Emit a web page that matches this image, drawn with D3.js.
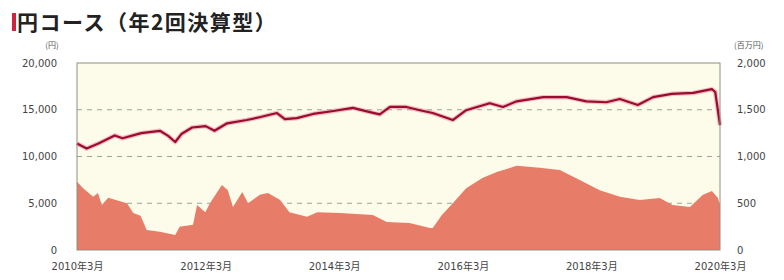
<!DOCTYPE html>
<html><head><meta charset="utf-8">
<script src="https://cdn.jsdelivr.net/npm/d3@7"></script>
<style>
body{margin:0;background:#fff;}
svg{display:block;font-family:"Noto Sans CJK JP","Noto Sans",sans-serif;}
</style></head><body>
<svg id="chart" width="784" height="280"></svg>
<script>
// ---- data ----
const title = "円コース（年2回決算型）";
const leftUnit = "(円)";
const rightUnit = "(百万円)";
const leftTicks = [0, 5000, 10000, 15000, 20000];
const rightTicks = [0, 500, 1000, 1500, 2000];
const xTickDates = ["2010-03-01","2012-03-01","2014-03-01","2016-03-01","2018-03-01","2020-03-01"];
const xTickLabels = ["2010年3月","2012年3月","2014年3月","2016年3月","2018年3月","2020年3月"];

const navDates = ["2010-03-01","2010-04-25","2010-07-01","2010-10-01","2010-11-15","2011-03-01","2011-06-15","2011-08-01","2011-09-10","2011-10-15","2011-12-15","2012-03-01","2012-04-20","2012-07-01","2012-10-20","2013-01-01","2013-04-10","2013-05-25","2013-08-01","2013-11-01","2014-02-25","2014-06-15","2014-09-20","2014-11-15","2015-01-12","2015-04-15","2015-07-01","2015-09-12","2016-01-04","2016-03-20","2016-08-01","2016-10-15","2017-01-01","2017-06-01","2017-10-12","2018-02-01","2018-05-25","2018-08-10","2018-11-20","2019-02-15","2019-06-01","2019-10-01","2020-01-15","2020-02-03","2020-03-01"];
const navValues = [11400,10850,11400,12250,11950,12500,12750,12200,11550,12400,13100,13250,12750,13550,13900,14200,14650,14000,14100,14550,14870,15200,14750,14500,15300,15300,14950,14650,13900,14950,15700,15300,15900,16350,16350,15900,15800,16150,15500,16350,16700,16800,17200,16900,13350];

const aumDates = ["2010-03-01","2010-04-05","2010-06-01","2010-06-28","2010-07-20","2010-08-25","2010-12-10","2011-01-15","2011-02-25","2011-04-01","2011-06-15","2011-07-25","2011-09-10","2011-10-05","2011-12-20","2012-01-12","2012-02-28","2012-03-25","2012-06-01","2012-07-05","2012-08-03","2012-09-25","2012-10-28","2013-01-03","2013-02-18","2013-04-28","2013-06-20","2013-09-28","2013-11-25","2014-04-03","2014-10-06","2014-12-25","2015-05-03","2015-08-28","2015-09-12","2015-11-03","2016-01-04","2016-03-20","2016-06-20","2016-09-10","2017-01-01","2017-05-12","2017-09-03","2017-12-25","2018-04-18","2018-08-10","2018-12-01","2019-03-25","2019-06-05","2019-09-12","2019-11-25","2020-01-15","2020-02-18","2020-03-01"];
const aumValues = [730,660,570,610,480,560,500,395,365,215,195,180,160,250,270,480,405,500,695,640,460,620,500,590,610,535,405,355,405,395,375,300,290,235,235,375,500,660,770,835,900,880,855,750,640,570,535,555,480,460,590,630,555,480];

// ---- layout ----
const svg = d3.select("#chart");
const L = 77, R = 720, T = 63, B = 250;
const parse = d3.timeParse("%Y-%m-%d");

const x = d3.scaleTime().domain([parse("2010-03-01"), parse("2020-03-01")]).range([L, R]);
const yL = d3.scaleLinear().domain([0, 20000]).range([B, T]);
const yR = d3.scaleLinear().domain([0, 2000]).range([B, T]);

const nav = navDates.map((d, i) => ({date: parse(d), v: navValues[i]}));
const aum = aumDates.map((d, i) => ({date: parse(d), v: aumValues[i]}));

// title
svg.append("rect").attr("x", 12).attr("y", 13).attr("width", 4).attr("height", 18).attr("fill", "#d2233f");
svg.append("text").attr("x", 17).attr("y", 30).attr("font-size", 21).attr("font-weight", "bold")
  .attr("fill", "#222").attr("letter-spacing", 1.5).text(title);

// plot bg
svg.append("rect").attr("x", L).attr("y", T).attr("width", R - L).attr("height", B - T).attr("fill", "#fdfbe9");

// grid
svg.append("g").selectAll("line").data([5000, 10000, 15000]).join("line")
  .attr("x1", L).attr("x2", R).attr("y1", d => yL(d)).attr("y2", d => yL(d))
  .attr("stroke", "#98a698").attr("stroke-width", 1.2).attr("stroke-dasharray", "5,5");

// area
svg.append("path").datum(aum)
  .attr("fill", "#e77d68")
  .attr("d", d3.area().x(d => x(d.date)).y0(B).y1(d => yR(d.v)));

// line
const line = d3.line().x(d => x(d.date)).y(d => yL(d.v));
svg.append("path").datum(nav).attr("fill", "none").attr("stroke", "#e88aa0").attr("stroke-opacity", 0.55).attr("stroke-width", 4.5).attr("stroke-linejoin", "round").attr("d", line);
svg.append("path").datum(nav).attr("fill", "none").attr("stroke", "#9c0c30").attr("stroke-width", 2.2).attr("stroke-linejoin", "round").attr("d", line);

// border
svg.append("rect").attr("x", L).attr("y", T).attr("width", R - L).attr("height", B - T)
  .attr("fill", "none").attr("stroke", "#8f9080").attr("stroke-width", 1);

// axes
const fmt = d3.format(",");
const axL = svg.append("g").attr("transform", `translate(${L},0)`)
  .call(d3.axisLeft(yL).tickValues(leftTicks).tickFormat(fmt).tickSize(0).tickPadding(20));
const axR = svg.append("g").attr("transform", `translate(${R},0)`)
  .call(d3.axisRight(yR).tickValues(rightTicks).tickFormat(fmt).tickSize(0).tickPadding(17));
const axB = svg.append("g").attr("transform", `translate(0,${B})`)
  .call(d3.axisBottom(x).tickValues(xTickDates.map(parse)).tickFormat((d, i) => xTickLabels[i]).tickSize(0).tickPadding(13));
[axL, axR, axB].forEach(a => {
  a.select(".domain").remove();
  a.selectAll("text").attr("font-size", 10).attr("fill", "#444").attr("font-family", "\"DejaVu Sans\",\"Noto Sans CJK JP\",sans-serif");
});

svg.append("text").attr("x", 52).attr("y", 48).attr("text-anchor", "middle").attr("font-size", 8).attr("fill", "#555").text(leftUnit);
svg.append("text").attr("x", 734).attr("y", 48).attr("font-size", 8).attr("fill", "#555").text(rightUnit);
</script>
</body></html>
